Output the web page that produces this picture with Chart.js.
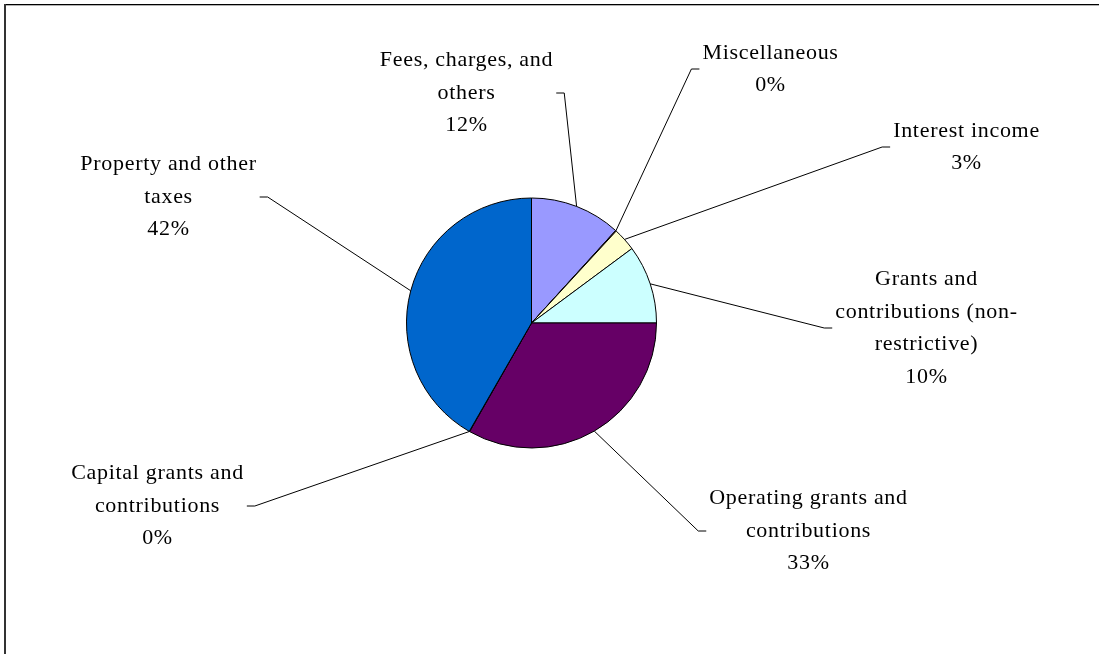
<!DOCTYPE html>
<html>
<head>
<meta charset="utf-8">
<script src="https://cdn.jsdelivr.net/npm/chart.js@4.4.1/dist/chart.umd.min.js"></script>
<style>
  html, body { margin: 0; padding: 0; background: #fff; }
  #wrap { position: relative; width: 1099px; height: 654px; }
</style>
</head>
<body>
<div id="wrap"><canvas id="c" width="1099" height="654"></canvas></div>
<script>
// ---- data ----
const categories = [
  "Fees, charges, and others",
  "Miscellaneous",
  "Interest income",
  "Grants and contributions (non-restrictive)",
  "Operating grants and contributions",
  "Capital grants and contributions",
  "Property and other taxes"
];
const shares = [11.75, 0.1, 3.0, 10.15, 33.25, 0.05, 41.7];

// ---- styles ----
const sliceColors = ["#9999FF", "#993366", "#FFFFCC", "#CCFFFF", "#660066", "#FF8080", "#0066CC"];
// label block centre offset from pie centre (px), and wrap width
const labelOffsets = [[-65, -230], [239, -254], [435, -176], [395, 5], [277, 208], [-374, 183], [-363, -126]];
const labelWrap = [195, 260, 260, 210, 225, 195, 200];
const FONT = "22px 'Liberation Serif', 'Times New Roman', serif";
const LETTER_SP = "0.7px";
const LINE_H = 32.5;

function wrapText(ctx, text, maxW) {
  const tokens = text.match(/[^\s-]+-?|\s+/g) || [];
  const lines = [];
  let cur = "";
  for (const t of tokens) {
    const test = cur + t;
    if (cur.trim() !== "" && ctx.measureText(test.trimEnd()).width > maxW) {
      lines.push(cur.trimEnd());
      cur = t.trimStart();
    } else {
      cur = test;
    }
  }
  if (cur.trim() !== "") lines.push(cur.trimEnd());
  return lines;
}

const labelPlugin = {
  id: "pieLabels",
  beforeDraw(chart) {
    const ctx = chart.ctx;
    ctx.save();
    ctx.fillStyle = "#000";
    ctx.fillRect(4, 4, chart.width - 4, 1.3);
    ctx.fillStyle = "#333";
    ctx.fillRect(4, 4, 2, chart.height - 4);
    ctx.restore();
  },
  afterDraw(chart) {
    const ctx = chart.ctx;
    const meta = chart.getDatasetMeta(0);
    const data = chart.data.datasets[0].data;
    const total = data.reduce((a, b) => a + b, 0);
    ctx.save();
    ctx.font = FONT;
    if ("letterSpacing" in ctx) ctx.letterSpacing = LETTER_SP;
    ctx.textAlign = "center";
    ctx.textBaseline = "middle";
    meta.data.forEach((arc, i) => {
      const { x, y, startAngle, endAngle, outerRadius } = arc.getProps(["x", "y", "startAngle", "endAngle", "outerRadius"], true);
      const mid = (startAngle + endAngle) / 2;
      const px = x + Math.cos(mid) * outerRadius;
      const py = y + Math.sin(mid) * outerRadius;
      const lx = x + labelOffsets[i][0];
      const ly = y + labelOffsets[i][1];
      const lines = wrapText(ctx, chart.data.labels[i], labelWrap[i]);
      lines.push(Math.round(data[i] / total * 100) + "%");
      let w = 0;
      lines.forEach(l => { w = Math.max(w, ctx.measureText(l).width); });
      const h = lines.length * LINE_H;
      ctx.fillStyle = "#000";
      lines.forEach((l, k) => {
        ctx.fillText(l, lx, ly - h / 2 + LINE_H * (k + 0.5));
      });
      const side = lx < px ? 1 : -1;
      const sx1 = lx + side * (w / 2 + 3);
      const sx2 = sx1 + side * 8;
      ctx.beginPath();
      ctx.strokeStyle = "#000";
      ctx.lineWidth = 1;
      ctx.moveTo(sx1, ly);
      ctx.lineTo(sx2, ly);
      ctx.lineTo(px, py);
      ctx.stroke();
    });
    ctx.restore();
  }
};

new Chart(document.getElementById("c"), {
  type: "pie",
  data: {
    labels: categories,
    datasets: [{
      data: shares,
      backgroundColor: sliceColors,
      borderColor: "#000",
      borderWidth: 1
    }]
  },
  options: {
    responsive: false,
    animation: false,
    radius: 125,
    layout: { padding: { left: 0, right: 36, top: 0, bottom: 8 } },
    plugins: { legend: { display: false }, tooltip: { enabled: false } }
  },
  plugins: [labelPlugin]
});
</script>
</body>
</html>
